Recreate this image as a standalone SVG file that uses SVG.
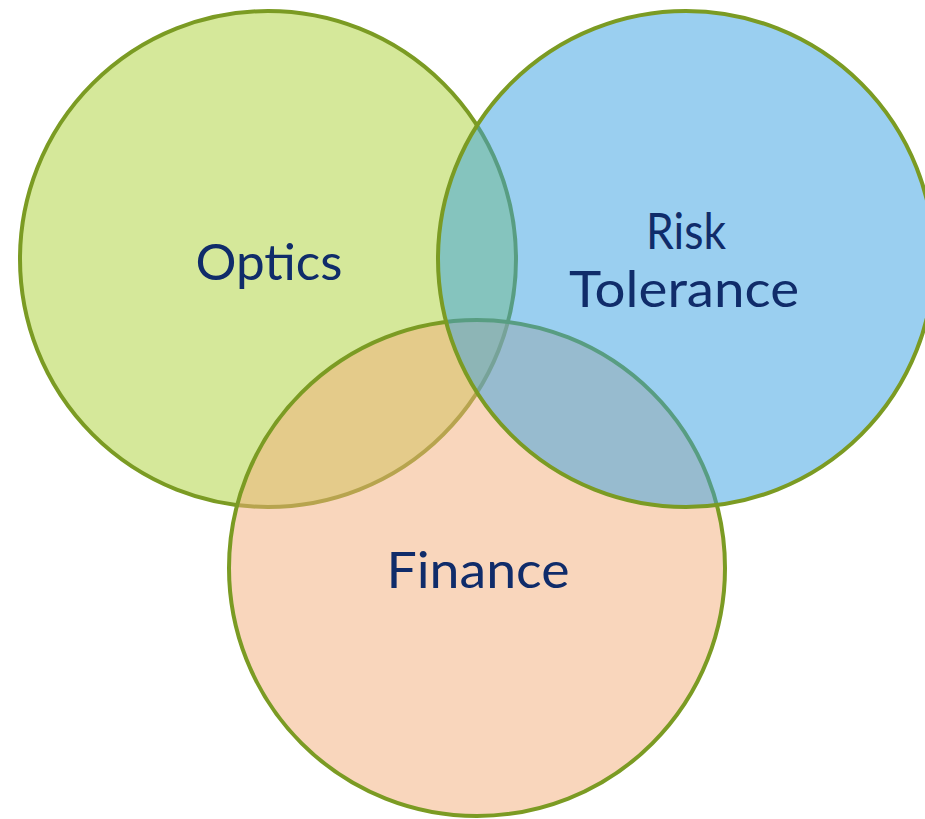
<svg xmlns="http://www.w3.org/2000/svg" width="925" height="819" viewBox="0 0 925 819">
<style>
.c{stroke:#7B9B23;stroke-width:4}
.t{font-family:Lato,"Liberation Sans",sans-serif;font-size:50px;fill:#102C6A;text-anchor:middle}
</style>
<rect width="925" height="819" fill="#FFFFFF"/>
<g id="optics">
<circle class="c" cx="268" cy="259" r="248" fill="#D5E89A"/>
<text class="t" x="269" y="280" textLength="147" lengthAdjust="spacingAndGlyphs">Optics</text>
</g>
<g id="finance">
<circle class="c" cx="477" cy="568" r="248" fill="#F3AD79" fill-opacity="0.5"/>
<text class="t" x="478" y="588" textLength="183" lengthAdjust="spacingAndGlyphs">Finance</text>
</g>
<g id="risk">
<circle class="c" cx="686" cy="259" r="248" fill="#359FE1" fill-opacity="0.5"/>
<text class="t" x="686" y="249" textLength="80" lengthAdjust="spacingAndGlyphs">Risk</text>
<text class="t" x="684" y="307" textLength="230" lengthAdjust="spacingAndGlyphs">Tolerance</text>
</g>
<g id="connectors"/>
</svg>
